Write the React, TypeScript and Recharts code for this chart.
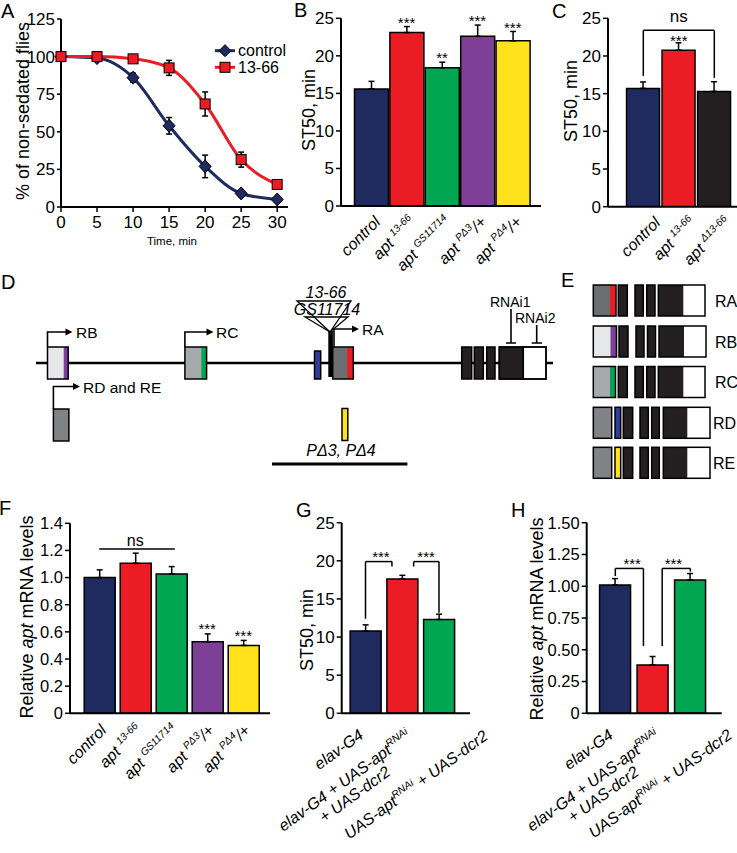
import React from 'react';
import {
  LineChart,
  Line,
  BarChart,
  Bar,
  XAxis,
  YAxis,
  ErrorBar,
  Cell,
  ReferenceLine,
  ReferenceDot,
  Legend,
} from 'recharts';

const FONT = "'Liberation Sans', Arial, Helvetica, sans-serif";
const NAVY = '#1f2a5e';
const RED = '#ec1c24';
const GREEN = '#00a651';
const PURPLE = '#7e3f98';
const YELLOW = '#ffe21c';
const CHARCOAL = '#231f20';

// A: sedation time course
const sedationMinutes = [0, 5, 10, 15, 20, 25, 30];
const controlNonSedated = [100, 99, 86, 54, 27, 9, 5];
const controlNonSedatedErr = [1, 1.5, 3, 5.5, 7.5, 2, 1.5];
const mutantNonSedated = [100, 100, 98.5, 92.5, 68.5, 31.5, 15];
const mutantNonSedatedErr = [1, 1, 2, 5, 8, 5, 2];
const minuteTicks = [0, 5, 10, 15, 20, 25, 30];
const percentTicks = [0, 25, 50, 75, 100, 125];

type Seg = { t: string; sup?: boolean };

// B / F: apt alleles
const alleleNames: Seg[][] = [
  [{ t: 'control' }],
  [{ t: 'apt ' }, { t: '13-66', sup: true }],
  [{ t: 'apt ' }, { t: 'GS11714', sup: true }],
  [{ t: 'apt ' }, { t: 'PΔ3', sup: true }, { t: '/+' }],
  [{ t: 'apt ' }, { t: 'PΔ4', sup: true }, { t: '/+' }],
];
const alleleColors = [NAVY, RED, GREEN, PURPLE, YELLOW];
const alleleST50 = [15.6, 23.1, 18.4, 22.6, 22.0];
const alleleST50Err = [1.0, 0.8, 0.75, 1.5, 1.25];
const alleleST50Stars = ['', '***', '**', '***', '***'];
const st50Ticks = [0, 5, 10, 15, 20, 25];

const alleleMRNA = [1.0, 1.105, 1.027, 0.528, 0.5];
const alleleMRNAErr = [0.057, 0.075, 0.054, 0.057, 0.037];
const alleleMRNAStars = ['', '', '', '***', '***'];
const mrnaTicksF = [0, 0.2, 0.4, 0.6, 0.8, 1.0, 1.2, 1.4];

// C: revertant
const revertantNames: Seg[][] = [
  [{ t: 'control' }],
  [{ t: 'apt ' }, { t: '13-66', sup: true }],
  [{ t: 'apt ' }, { t: 'Δ13-66', sup: true }],
];
const revertantColors = [NAVY, RED, CHARCOAL];
const revertantST50 = [15.7, 20.75, 15.3];
const revertantST50Err = [0.85, 1.0, 1.28];

// G / H: pan-neuronal RNAi
const rnaiNames: Seg[][][] = [
  [[{ t: 'elav-G4' }]],
  [[{ t: 'elav-G4 + UAS-apt' }, { t: 'RNAi', sup: true }], [{ t: '+ UAS-dcr2' }]],
  [[{ t: 'UAS-apt' }, { t: 'RNAi', sup: true }, { t: ' + UAS-dcr2' }]],
];
const rnaiColors = [NAVY, RED, GREEN];
const rnaiST50 = [10.8, 17.6, 12.3];
const rnaiST50Err = [0.8, 0.5, 0.7];
const rnaiMRNA = [1.01, 0.38, 1.05];
const rnaiMRNAErr = [0.05, 0.067, 0.05];
const mrnaTicksH = [0, 0.25, 0.5, 0.75, 1.0, 1.25, 1.5];

const axisStroke = { stroke: '#000', strokeWidth: 2 };
const tickStroke = { stroke: '#000', strokeWidth: 1.5 };

function renderSegs(segs: Seg[], size: number, supSize: number, rise: number) {
  let prevSup = false;
  return segs.map((s, k) => {
    const dy = (s.sup ? -rise : 0) - (prevSup ? -rise : 0);
    prevSup = !!s.sup;
    return (
      <tspan key={k} dy={dy} fontSize={s.sup ? supSize : size}>
        {s.t}
      </tspan>
    );
  });
}

function makeSlantTick(labels: Seg[][], dx: number, dy: number, size: number) {
  return (props: any) => {
    const { x, y, payload } = props;
    const segs = labels[payload.value];
    if (!segs) return <g />;
    return (
      <g transform={`translate(${x + dx},${y + dy}) rotate(-45)`}>
        <text textAnchor="end" fontStyle="italic" fontFamily={FONT} fill="#000" style={{ whiteSpace: 'pre' }}>
          {renderSegs(segs, size, size * 0.64, size * 0.42)}
        </text>
      </g>
    );
  };
}

// end-of-text anchors for the rnai labels, relative to the tick
function makeRnaiTick(offsets: number[][]) {
  return (props: any) => {
    const { x, y, payload } = props;
    const lines = rnaiNames[payload.value];
    if (!lines) return <g />;
    const [dx, dy] = offsets[payload.value];
    return (
      <g transform={`translate(${x + dx},${y + dy}) rotate(-36)`}>
        {lines.map((segs, k) => (
          <text key={k} x={k ? -38 : 0} y={k ? 17 : 0} textAnchor="end" fontStyle="italic" fontFamily={FONT} fill="#000" style={{ whiteSpace: 'pre' }}>
            {renderSegs(segs, 16, 10.5, 6.5)}
          </text>
        ))}
      </g>
    );
  };
}

type BarPanelProps = {
  box: [number, number, number, number];
  plot: [number, number, number, number];
  xDomain: [number, number];
  yDomain: [number, number];
  yTicks: number[];
  yFormat?: (v: number) => string;
  yFontSize: number;
  values: number[];
  errors: number[];
  colors: string[];
  barSize: number;
  tick: any;
  children?: React.ReactNode;
};

function BarPanel(p: BarPanelProps) {
  const [left, top, width, height] = p.box;
  const [pl, pt, pr, pb] = p.plot;
  const data = p.values.map((v, i) => ({ idx: i, value: v, err: [0, p.errors[i]] }));
  return (
    <div style={{ position: 'absolute', left, top }}>
      <BarChart
        width={width}
        height={height}
        data={data}
        margin={{ top: pt - top, right: left + width - pr, bottom: 0, left: 0 }}
      >
        <XAxis
          dataKey="idx"
          type="number"
          domain={p.xDomain}
          ticks={p.values.map((_, i) => i)}
          interval={0}
          height={top + height - pb}
          tickLine={false}
          tickSize={0}
          tickMargin={0}
          axisLine={axisStroke}
          tick={p.tick}
          allowDataOverflow
        />
        <YAxis
          type="number"
          domain={p.yDomain}
          ticks={p.yTicks}
          interval={0}
          width={pl - left}
          tickFormatter={p.yFormat}
          tick={{ fontSize: p.yFontSize, fill: '#000', fontFamily: FONT }}
          tickSize={5}
          tickMargin={2}
          tickLine={tickStroke}
          axisLine={axisStroke}
          allowDataOverflow
        />
        <Bar dataKey="value" barSize={p.barSize} stroke="#000" strokeWidth={1.5} isAnimationActive={false}>
          {data.map((d, i) => (
            <Cell key={`c${i}`} fill={p.colors[i]} />
          ))}
          <ErrorBar dataKey="err" direction="y" width={3} stroke="#000" strokeWidth={1.5} />
        </Bar>
        {p.children}
      </BarChart>
    </div>
  );
}

function bracket(points: [number, number][], key: string) {
  return points.slice(1).map((pt, i) => (
    <ReferenceLine
      key={`${key}${i}`}
      segment={[
        { x: points[i][0], y: points[i][1] },
        { x: pt[0], y: pt[1] },
      ]}
      stroke="#000"
      strokeWidth={1.5}
      ifOverflow="visible"
    />
  ));
}

function note(x: number, y: number, text: string, size: number, key: string) {
  return (
    <ReferenceDot
      key={key}
      x={x}
      y={y}
      r={0}
      fill="none"
      stroke="none"
      ifOverflow="visible"
      label={{ value: text, position: 'center', fontSize: size, fill: '#000', fontFamily: FONT }}
    />
  );
}

const diamondDot = (props: any) => {
  const { cx, cy, index } = props;
  if (cx == null || cy == null) return <g key={`d${index}`} />;
  return (
    <path
      key={`d${index}`}
      d={`M${cx},${cy - 6.5}L${cx + 6},${cy}L${cx},${cy + 6.5}L${cx - 6},${cy}Z`}
      fill={NAVY}
      stroke="#000"
      strokeWidth={1}
    />
  );
};

const squareDot = (props: any) => {
  const { cx, cy, index } = props;
  if (cx == null || cy == null) return <g key={`s${index}`} />;
  return <rect key={`s${index}`} x={cx - 5} y={cy - 5} width={10} height={10} fill={RED} stroke="#000" strokeWidth={1} />;
};

function SedationLegend() {
  return (
    <svg width={110} height={40} style={{ display: 'block' }}>
      <line x1={5} y1={10.7} x2={25} y2={10.7} stroke={NAVY} strokeWidth={3} />
      <path d="M15,4.7L21,10.7L15,16.7L9,10.7Z" fill={NAVY} stroke="#000" strokeWidth={1} />
      <text x={28} y={16.4} fontSize={16} fontFamily={FONT}>control</text>
      <line x1={5} y1={27.3} x2={25} y2={27.3} stroke={RED} strokeWidth={3} />
      <rect x={10} y={22.3} width={10} height={10} fill={RED} stroke="#000" strokeWidth={1} />
      <text x={28} y={33} fontSize={16} fontFamily={FONT}>13-66</text>
    </svg>
  );
}

function SedationPanel() {
  const data = sedationMinutes.map((t, i) => ({
    t,
    ctrl: controlNonSedated[i],
    ctrlErr: controlNonSedatedErr[i],
    mut: mutantNonSedated[i],
    mutErr: mutantNonSedatedErr[i],
  }));
  return (
    <div style={{ position: 'absolute', left: 0, top: 0 }}>
      <LineChart width={300} height={250} data={data} margin={{ top: 19, right: 12, left: 0, bottom: 0 }}>
        <XAxis
          dataKey="t"
          type="number"
          domain={[0, 31.5]}
          ticks={minuteTicks}
          interval={0}
          height={43}
          tick={{ fontSize: 17, fill: '#000', fontFamily: FONT }}
          tickSize={5}
          tickMargin={4}
          tickLine={tickStroke}
          axisLine={axisStroke}
        />
        <YAxis
          type="number"
          domain={[0, 125]}
          ticks={percentTicks}
          interval={0}
          width={61}
          tick={{ fontSize: 17, fill: '#000', fontFamily: FONT }}
          tickSize={4}
          tickMargin={2}
          tickLine={tickStroke}
          axisLine={axisStroke}
        />
        <Line dataKey="ctrl" type="monotone" stroke={NAVY} strokeWidth={3} dot={diamondDot} isAnimationActive={false}>
          <ErrorBar dataKey="ctrlErr" direction="y" width={3} stroke="#000" strokeWidth={1.5} />
        </Line>
        <Line dataKey="mut" type="monotone" stroke={RED} strokeWidth={3} dot={squareDot} isAnimationActive={false}>
          <ErrorBar dataKey="mutErr" direction="y" width={3} stroke="#000" strokeWidth={1.5} />
        </Line>
        <Legend
          layout="vertical"
          align="center"
          verticalAlign="middle"
          wrapperStyle={{ left: 210, top: 40, width: 110, height: 40 }}
          content={() => <SedationLegend />}
        />
      </LineChart>
    </div>
  );
}

const panelLetters = [
  { l: 'A', x: 1, y: 18 },
  { l: 'B', x: 294, y: 17 },
  { l: 'C', x: 552, y: 18 },
  { l: 'D', x: 1, y: 289 },
  { l: 'E', x: 561, y: 287 },
  { l: 'F', x: -1, y: 515 },
  { l: 'G', x: 296, y: 517 },
  { l: 'H', x: 511, y: 517 },
];

function VTitle({ x, y, children }: { x: number; y: number; children: React.ReactNode }) {
  return (
    <text transform={`translate(${x},${y}) rotate(-90)`} textAnchor="middle" fontSize={18} fontFamily={FONT} fill="#000">
      {children}
    </text>
  );
}

function StartArrow({ x, y0, y1, x1 }: { x: number; y0: number; y1: number; x1: number }) {
  return (
    <g>
      <path d={`M${x},${y0}V${y1}H${x1 - 5}`} stroke="#000" strokeWidth={1.6} fill="none" />
      <path d={`M${x1},${y1}l-7,-3.5v7z`} fill="#000" />
    </g>
  );
}

function Exon({ x0, x1, y, h, fill, strip }: { x0: number; x1: number; y: number; h: number; fill: string; strip?: [number, number, string] }) {
  return (
    <g>
      <rect x={x0} y={y} width={x1 - x0} height={h} fill={fill} />
      {strip && <rect x={strip[0]} y={y} width={strip[1] - strip[0]} height={h} fill={strip[2]} />}
      <rect x={x0} y={y} width={x1 - x0} height={h} fill="none" stroke="#000" strokeWidth={1.5} />
    </g>
  );
}

function GeneModel() {
  const ly = 363;
  const by = 347;
  const bh = 32;
  return (
    <g fontFamily={FONT}>
      <line x1={36} y1={ly} x2={553} y2={ly} stroke="#000" strokeWidth={2.5} />
      <Exon x0={47.5} x1={68.2} y={by} h={bh} fill="#e6e7e8" strip={[63.7, 68.2, PURPLE]} />
      <StartArrow x={47.5} y0={by} y1={332} x1={72.5} />
      <text x={76} y={338} fontSize={15.5}>RB</text>
      <Exon x0={53.4} x1={68.9} y={409} h={32} fill="#808285" />
      <StartArrow x={53.4} y0={409} y1={386.5} x1={80} />
      <text x={83} y={392.5} fontSize={15.5}>RD and RE</text>
      <Exon x0={184.9} x1={206.6} y={by} h={bh} fill="#a7a9ac" strip={[201.4, 206.2, GREEN]} />
      <StartArrow x={184.9} y0={by} y1={332} x1={213.5} />
      <text x={216} y={338} fontSize={15.5}>RC</text>
      <Exon x0={314.5} x1={320.7} y={351} h={28} fill="#2e3f99" />
      <Exon x0={332.7} x1={353.3} y={by} h={bh} fill="#6d6e71" strip={[347.3, 353.3, RED]} />
      <rect x={328.3} y={331} width={4.6} height={46} fill="#000" />
      <StartArrow x={334} y0={by} y1={329} x1={359} />
      <text x={362} y={335} fontSize={15.5}>RA</text>
      <path d="M297,301H351L330,332Z" fill="none" stroke="#000" strokeWidth={1.3} />
      <path d="M305,317H348L330,332Z" fill="none" stroke="#000" strokeWidth={1.3} />
      <text x={326} y={297.5} textAnchor="middle" fontSize={16} fontStyle="italic">13-66</text>
      <text x={327} y={315} textAnchor="middle" fontSize={16} fontStyle="italic">GS11714</text>
      {[[461.7, 471.7], [474.3, 483.3], [486.7, 495], [499.3, 523.3]].map(([a, b], i) => (
        <Exon key={i} x0={a} x1={b} y={by} h={bh} fill="#231f20" />
      ))}
      <Exon x0={523.3} x1={546} y={by} h={bh} fill="#fff" />
      <rect x={499.3} y={by} width={46.7} height={bh} fill="none" stroke="#000" strokeWidth={1.5} />
      <text x={490} y={307} fontSize={14}>RNAi1</text>
      <path d="M511,309V343M506,343H516" stroke="#000" strokeWidth={1.6} />
      <text x={515} y={322.5} fontSize={14}>RNAi2</text>
      <path d="M536.7,325V343M531.7,343H542" stroke="#000" strokeWidth={1.6} />
      <Exon x0={342} x1={347.8} y={408.5} h={32} fill={YELLOW} />
      <text x={341} y={456} textAnchor="middle" fontSize={16} fontStyle="italic">PΔ3, PΔ4</text>
      <line x1={272} y1={464} x2={407.4} y2={464} stroke="#000" strokeWidth={3} />
    </g>
  );
}

const transcriptRows = [
  { name: 'RA', y: 285, lead: [593.3, 616, '#6d6e71'], strip: [610, 616, RED], sep: false, exons: [[618.3, 627.3], [635, 643.3], [646.7, 655]], last: [658.3, 683.3, 705], lx: 715 },
  { name: 'RB', y: 326, lead: [593.3, 616.5, '#e6e7e8'], strip: [610.5, 616.5, PURPLE], sep: false, exons: [[619, 628], [636, 644], [647.5, 655.5]], last: [659, 684, 706], lx: 715 },
  { name: 'RC', y: 366.5, lead: [593.3, 615.5, '#a7a9ac'], strip: [610, 615.5, GREEN], sep: false, exons: [[618.3, 627.3], [635, 643.3], [646.7, 655]], last: [658.3, 683.3, 705], lx: 715 },
  { name: 'RD', y: 407.3, lead: [593.3, 611.7, '#808285'], strip: [615, 620.7, '#2e3f99'], sep: true, exons: [[623.3, 632.7], [640, 648.3], [651.7, 659.3]], last: [663.3, 687.3, 710], lx: 713 },
  { name: 'RE', y: 447.3, lead: [593.3, 611.7, '#808285'], strip: [615, 620.7, YELLOW], sep: true, exons: [[623.3, 632.7], [640, 648.3], [651.7, 659.3]], last: [663.3, 687.3, 710], lx: 713 },
];

function TranscriptModels() {
  const h = 31;
  return (
    <g fontFamily={FONT}>
      {transcriptRows.map((r) => (
        <g key={r.name}>
          {r.sep ? (
            <>
              <Exon x0={r.lead[0] as number} x1={r.lead[1] as number} y={r.y} h={h} fill={r.lead[2] as string} />
              <Exon x0={r.strip[0] as number} x1={r.strip[1] as number} y={r.y} h={h} fill={r.strip[2] as string} />
            </>
          ) : (
            <Exon
              x0={r.lead[0] as number}
              x1={r.lead[1] as number}
              y={r.y}
              h={h}
              fill={r.lead[2] as string}
              strip={[r.strip[0] as number, r.strip[1] as number, r.strip[2] as string]}
            />
          )}
          {r.exons.map(([a, b], i) => (
            <Exon key={i} x0={a} x1={b} y={r.y} h={h} fill="#231f20" />
          ))}
          <Exon x0={r.last[0]} x1={r.last[2]} y={r.y} h={h} fill="#fff" strip={[r.last[0], r.last[1], '#231f20']} />
          <text x={r.lx} y={r.y + 21.5} fontSize={16}>{r.name}</text>
        </g>
      ))}
    </g>
  );
}

function Overlay() {
  return (
    <svg width={737} height={853} style={{ position: 'absolute', left: 0, top: 0, pointerEvents: 'none' }}>
      {panelLetters.map((p) => (
        <text key={p.l} x={p.x} y={p.y} fontSize={20} fontFamily={FONT} fill="#000">
          {p.l}
        </text>
      ))}
      <VTitle x={29} y={111}>% of non-sedated flies</VTitle>
      <text x={172} y={245} textAnchor="middle" fontSize={11.5} fontFamily={FONT}>Time, min</text>
      <VTitle x={315} y={110}>ST50, min</VTitle>
      <VTitle x={577} y={101}>ST50, min</VTitle>
      <VTitle x={33} y={617}>
        Relative <tspan fontStyle="italic">apt</tspan> mRNA levels
      </VTitle>
      <VTitle x={313} y={630}>ST50, min</VTitle>
      <VTitle x={543} y={619}>
        Relative <tspan fontStyle="italic">apt</tspan> mRNA levels
      </VTitle>
      <GeneModel />
      <TranscriptModels />
    </svg>
  );
}

const fmt1 = (v: number) => (v === 0 ? '0' : v.toFixed(1));
const fmt2 = (v: number) => (v === 0 ? '0' : v.toFixed(2));

export default function App() {
  return (
    <div style={{ position: 'absolute', left: 0, top: 0, width: 737, height: 853, background: '#fff', overflow: 'hidden' }}>
      <SedationPanel />

      <BarPanel
        box={[280, 0, 265, 280]}
        plot={[341, 18.3, 541, 206]}
        xDomain={[-0.853, 4.797]}
        yDomain={[0, 25]}
        yTicks={st50Ticks}
        yFontSize={17}
        values={alleleST50}
        errors={alleleST50Err}
        colors={alleleColors}
        barSize={34}
        tick={makeSlantTick(alleleNames, 10, 17, 16)}
      >
        {alleleST50Stars.map((s, i) =>
          s ? note(i, alleleST50[i] + alleleST50Err[i] + 0.55, s, 15, `bs${i}`) : null,
        )}
      </BarPanel>

      <BarPanel
        box={[548, 0, 189, 280]}
        plot={[608, 18.3, 737, 206.7]}
        xDomain={[-0.994, 2.639]}
        yDomain={[0, 25]}
        yTicks={st50Ticks}
        yFontSize={17}
        values={revertantST50}
        errors={revertantST50Err}
        colors={revertantColors}
        barSize={33}
        tick={makeSlantTick(revertantNames, 18, 17, 16)}
      >
        {bracket([[0, 17.35], [0, 23.4], [2, 23.4], [2, 17.1]], 'cb')}
        {note(1, 22.0, '***', 15, 'cs')}
        {note(1, 25.3, 'ns', 17, 'cns')}
      </BarPanel>

      <BarPanel
        box={[0, 480, 275, 373]}
        plot={[70, 523.3, 270, 713.3]}
        xDomain={[-0.811, 4.744]}
        yDomain={[0, 1.4]}
        yTicks={mrnaTicksF}
        yFormat={fmt1}
        yFontSize={16.5}
        values={alleleMRNA}
        errors={alleleMRNAErr}
        colors={alleleColors}
        barSize={31}
        tick={makeSlantTick(alleleNames, 8, 18, 16)}
      >
        {bracket([[0, 1.21], [2.1, 1.21]], 'fb')}
        {note(1, 1.275, 'ns', 16, 'fns')}
        {alleleMRNAStars.map((s, i) =>
          s ? note(i, alleleMRNA[i] + alleleMRNAErr[i] + 0.035, s, 15, `fs${i}`) : null,
        )}
      </BarPanel>

      <BarPanel
        box={[270, 480, 240, 373]}
        plot={[341.7, 522.7, 470, 713.3]}
        xDomain={[-0.648, 2.844]}
        yDomain={[0, 25]}
        yTicks={st50Ticks}
        yFontSize={17}
        values={rnaiST50}
        errors={rnaiST50Err}
        colors={rnaiColors}
        barSize={31}
        tick={makeRnaiTick([[-1, 24], [10, 25], [50, 25]])}
      >
        {bracket([[0, 12.4], [0, 19.9], [0.72, 19.9], [0.72, 19.25]], 'gl')}
        {bracket([[1.31, 19.25], [1.31, 19.9], [2, 19.9], [2, 13.2]], 'gr')}
        {note(0.42, 20.5, '***', 15, 'gs1')}
        {note(1.65, 20.5, '***', 15, 'gs2')}
      </BarPanel>

      <BarPanel
        box={[510, 480, 227, 373]}
        plot={[586.7, 522.7, 721.7, 713.3]}
        xDomain={[-0.763, 2.837]}
        yDomain={[0, 1.5]}
        yTicks={mrnaTicksH}
        yFormat={fmt2}
        yFontSize={16.5}
        values={rnaiMRNA}
        errors={rnaiMRNAErr}
        colors={rnaiColors}
        barSize={31}
        tick={makeRnaiTick([[-1, 24], [8, 25], [43, 24]])}
      >
        {bracket([[0, 1.08], [0, 1.14], [0.75, 1.14], [0.75, 0.53]], 'hl')}
        {bracket([[1.25, 0.53], [1.25, 1.14], [2, 1.14], [2, 1.115]], 'hr')}
        {note(0.45, 1.175, '***', 15, 'hs1')}
        {note(1.55, 1.175, '***', 15, 'hs2')}
      </BarPanel>

      <Overlay />
    </div>
  );
}
